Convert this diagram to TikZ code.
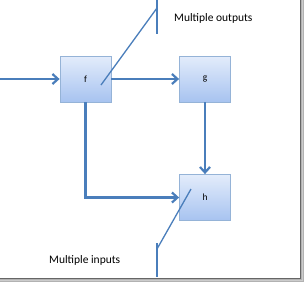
\documentclass[tikz,border=0pt]{standalone}
\usepackage{fontspec}
\setmainfont{Carlito}
\usetikzlibrary{arrows.meta}
\definecolor{lineblue}{HTML}{4A7EBB}
\definecolor{boxedge}{HTML}{95B3D7}
\definecolor{boxtop}{HTML}{E3ECFB}
\definecolor{boxbot}{HTML}{A7C3F0}
\tikzset{
  blk/.style={draw=boxedge, line width=0.8pt, top color=boxtop, bottom color=boxbot,
    minimum width=51pt, minimum height=46pt, inner sep=0pt, font=\fontsize{9.5}{10}\selectfont},
  conn/.style={draw=lineblue, line width=2.6pt, -{Straight Barb[length=5.5pt,width=10pt,line width=2.2pt]}},
  callout/.style={draw=lineblue, line width=1.3pt},
  lbl/.style={font=\fontsize{11.5}{13}\selectfont, inner sep=0pt, anchor=base west}
}
\begin{document}
\begin{tikzpicture}[x=1pt,y=-1pt]
\useasboundingbox (0,0) rectangle (304,282);
\fill[white] (0,0) rectangle (304,282);
% shadow frame
\fill[gray!60] (299,0) rectangle (304,282);
\fill[gray!60] (0,277) rectangle (304,282);
\fill[white] (0,0) rectangle (300,278);
\draw[gray!80!black, line width=1pt] (300,0) -- (300,278) -- (0,278);
\draw[gray!40, line width=1pt] (302,0) -- (302,280) -- (0,280);

\node[blk] (f) at (85.5,79) {f};
\node[blk] (g) at (205,79) {g};
\node[blk] (h) at (205,197.5) {h};
\coordinate (in) at (0,79);
\draw[conn] (in) -- (f.west);
\draw[conn] (f.east) -- (g.west);
\draw[conn] (g.south) -- (h.north);
\draw[conn] (f.south) |- (h.west);

% callouts
\coordinate (o1) at (101,85);
\coordinate (o2) at (157,8);
\coordinate (o3) at (157,0);
\coordinate (o4) at (157,34);
\draw[callout] (o1) -- (o2);
\draw[callout] (o3) -- (o4);
\node[lbl] (mo) at (174,21) {Multiple outputs};

\coordinate (i1) at (191,189);
\coordinate (i2) at (157,249);
\coordinate (i3) at (157,243);
\coordinate (i4) at (157,277);
\draw[callout] (i1) -- (i2);
\draw[callout] (i3) -- (i4);
\node[lbl] (mi) at (49,263) {Multiple inputs};
\end{tikzpicture}
\end{document}
